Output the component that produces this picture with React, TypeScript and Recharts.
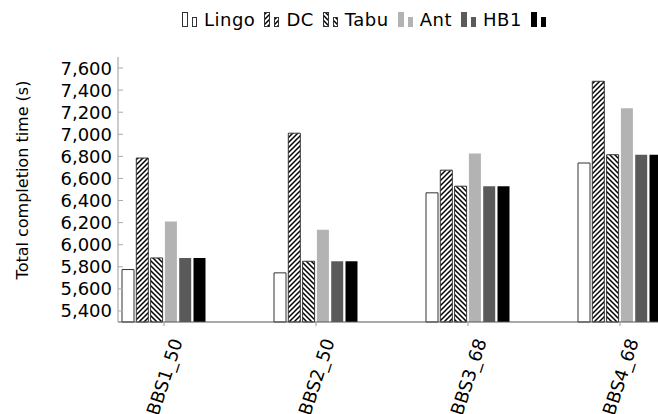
import React from "react";
import { BarChart, Bar, XAxis, YAxis } from "recharts";

// Values (seconds).
const categories = ["BBS1_50", "BBS2_50", "BBS3_68", "BBS4_68"];
const lingo = [5775, 5745, 6470, 6740];
const dc = [6785, 7010, 6675, 7480];
const tabu = [5880, 5850, 6530, 6815];
const ant = [6210, 6135, 6825, 7235];
const hb1 = [5880, 5850, 6530, 6815];
const hb2 = [5880, 5850, 6530, 6815];
const yTicks = [5400, 5600, 5800, 6000, 6200, 6400, 6600, 6800, 7000, 7200, 7400, 7600];

const FONT = "'DejaVu Sans', sans-serif";

const series = [
  { key: "lingo", label: "Lingo", values: lingo, fill: "#ffffff", stroke: "#333" },
  { key: "dc", label: "DC", values: dc, fill: "url(#hatchDC)", stroke: "#333" },
  { key: "tabu", label: "Tabu", values: tabu, fill: "url(#hatchTabu)", stroke: "#333" },
  { key: "ant", label: "Ant", values: ant, fill: "#b3b3b3", stroke: "none" },
  { key: "hb1", label: "HB1", values: hb1, fill: "#5a5a5a", stroke: "none" },
  { key: "hb2", label: "", values: hb2, fill: "#000000", stroke: "none" },
];

const rows = categories.map((name, i) => {
  const row: Record<string, string | number> = { name };
  series.forEach((s) => (row[s.key] = s.values[i]));
  return row;
});

function YTick(props: any) {
  const { x, y, payload } = props;
  return (
    <g>
      <line x1={x + 6} x2={x + 11} y1={y} y2={y} stroke="#aaa" />
      <text x={x} y={y} dy="0.36em" textAnchor="end" fontSize={18} fill="#000" fontFamily={FONT}>
        {Number(payload.value).toLocaleString("en-US")}
      </text>
    </g>
  );
}

function XTick(props: any) {
  const { x, y, payload } = props;
  return (
    <g>
      <line x1={x} x2={x} y1={y - 8} y2={y - 4} stroke="#999" />
      <g transform={`translate(${x + 6},${y + 7}) rotate(-72)`}>
        <text x={0} y={0} dy="0.75em" textAnchor="end" fontSize={18} fill="#000" fontFamily={FONT}>
          {payload.value}
        </text>
      </g>
    </g>
  );
}

function Swatch({ w, h, fill, stroke }: { w: number; h: number; fill: string; stroke: string }) {
  return (
    <svg width={w} height={17} style={{ display: "block" }}>
      <rect x={0.5} y={17 - h + 0.5} width={w - 1} height={h - 1} fill={fill} stroke={stroke === "none" ? fill : stroke} />
    </svg>
  );
}

export default function App() {
  // fixed frame the size of the window, so no scrollbars can appear
  return (
    <div style={{ position: "fixed", left: 0, top: 0, width: 658, height: 414, overflow: "hidden", background: "#fff" }}>
      <div style={{ position: "absolute", left: 8, top: 8, width: 700, height: 406, fontFamily: FONT }}>
        <BarChart
          width={700}
          height={406}
          data={rows}
          margin={{ top: 49, right: 0, bottom: 0, left: 0 }}
          barSize={12}
          barGap={2.3}
        >
          <defs>
            <pattern id="hatchDC" patternUnits="userSpaceOnUse" width={5} height={5}>
              <rect width={5} height={5} fill="#fff" />
              <path d="M-1,1 L1,-1 M0,5 L5,0 M4,6 L6,4" stroke="#000" strokeWidth={1.5} />
            </pattern>
            <pattern id="hatchTabu" patternUnits="userSpaceOnUse" width={5} height={5}>
              <rect width={5} height={5} fill="#fff" />
              <path d="M-1,4 L1,6 M0,0 L5,5 M4,-1 L6,1" stroke="#000" strokeWidth={1.5} />
            </pattern>
          </defs>
          <XAxis
            dataKey="name"
            height={92}
            padding={{ left: -30, right: 12 }}
            tickSize={0}
            tickMargin={8}
            tickLine={false}
            axisLine={{ stroke: "#555" }}
            interval={0}
            tick={<XTick />}
          />
          <YAxis
            type="number"
            width={110}
            domain={[5300, 7700]}
            ticks={yTicks}
            interval={0}
            tickSize={0}
            tickMargin={6}
            tickLine={false}
            axisLine={{ stroke: "#999" }}
            tick={<YTick />}
          />
          {series.map((s) => (
            <Bar
              key={s.key}
              dataKey={s.key}
              name={s.label}
              fill={s.fill}
              stroke={s.stroke}
              strokeWidth={1}
              isAnimationActive={false}
            />
          ))}
        </BarChart>

        {/* legend */}
        <div
          style={{
            position: "absolute",
            left: 174,
            top: 2,
            display: "flex",
            alignItems: "flex-end",
            fontSize: 18,
            letterSpacing: 0.5,
            lineHeight: "17px",
          }}
        >
          {series.map((s) => (
            <div key={s.key} style={{ display: "flex", alignItems: "flex-end", marginRight: 9 }}>
              <Swatch w={6} h={15} fill={s.fill} stroke={s.stroke} />
              <div style={{ width: 4 }} />
              <Swatch w={5} h={10} fill={s.fill} stroke={s.stroke} />
              <div style={{ width: 7 }} />
              <span style={{ display: "block", height: 17, lineHeight: "20px" }}>{s.label}</span>
            </div>
          ))}
        </div>

        {/* y-axis title */}
        <svg width={40} height={406} style={{ position: "absolute", left: 0, top: 0, pointerEvents: "none" }}>
          <text
            transform="translate(14,172) rotate(-90)"
            textAnchor="middle"
            dominantBaseline="central"
            fontSize={16}
            fill="#000"
            fontFamily={FONT}
          >
            Total completion time (s)
          </text>
        </svg>
      </div>
    </div>
  );
}
